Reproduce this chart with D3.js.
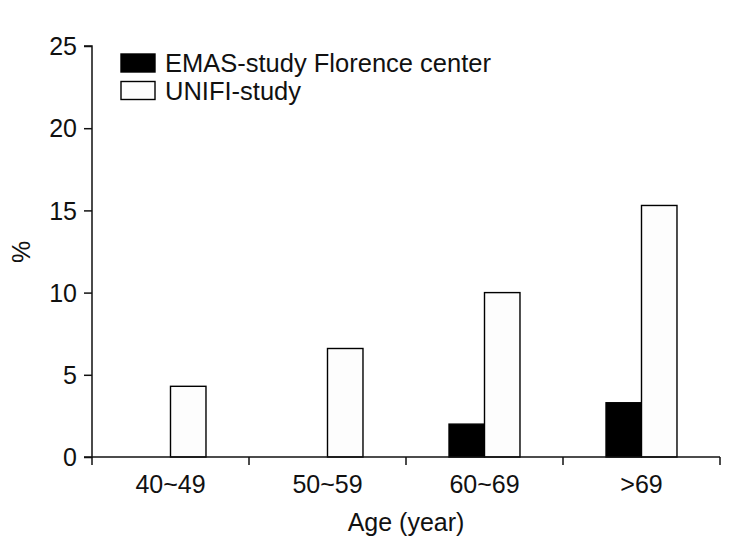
<!DOCTYPE html>
<html>
<head>
<meta charset="utf-8">
<script src="https://cdn.jsdelivr.net/npm/d3@7"></script>
<style>
  html, body { margin: 0; padding: 0; background: #fff; }
  svg text { font-family: "Liberation Sans", Arial, sans-serif; fill: #111; }
</style>
</head>
<body>
<svg id="chart" width="733" height="549"></svg>
<script>
const categories = ["40~49", "50~59", "60~69", ">69"];
const seriesNames = ["EMAS-study Florence center", "UNIFI-study"];
const emasValues = [0, 0, 2.0, 3.3];
const unifiValues = [4.3, 6.6, 10.0, 15.3];
const yTicks = [0, 5, 10, 15, 20, 25];
const seriesFill = ["#000000", "#fdfdfd"];

const svg = d3.select("#chart");
const mLeft = 92, mRight = 720, mTop = 46, mBottom = 457;

const x = d3.scaleBand().domain(categories).range([mLeft, mRight]).padding(0);
const y = d3.scaleLinear().domain([0, 25]).range([mBottom, mTop]);
const barW = x.bandwidth() * 0.226;

// bars
const series = [emasValues, unifiValues];
series.forEach((vals, si) => {
  svg.append("g").selectAll("rect")
    .data(categories.map((c, i) => ({ c, v: vals[i] })).filter(d => d.v > 0))
    .join("rect")
    .attr("x", d => x(d.c) + x.bandwidth() / 2 + (si === 0 ? -barW : 0))
    .attr("y", d => y(d.v))
    .attr("width", barW)
    .attr("height", d => y(0) - y(d.v))
    .attr("fill", seriesFill[si])
    .attr("stroke", "#000")
    .attr("stroke-width", 1.4);
});

// y axis
const yAxis = svg.append("g").attr("transform", `translate(${mLeft},0)`)
  .call(d3.axisLeft(y).tickValues(yTicks).tickSize(8).tickPadding(7));
yAxis.select(".domain").attr("stroke", "#111").attr("stroke-width", 1.5).attr("d", `M-8,${mTop}H0V${mBottom}H-8`);
yAxis.selectAll(".tick line").attr("stroke", "#111").attr("stroke-width", 1.5);
yAxis.selectAll(".tick text").style("font-size", "25px").attr("dy", "0.35em");

// x axis
const boundaries = categories.map(c => x(c)).concat([mRight]);
const xg = svg.append("g");
xg.append("line").attr("x1", mLeft).attr("x2", mRight).attr("y1", mBottom).attr("y2", mBottom)
  .attr("stroke", "#111").attr("stroke-width", 1.5);
xg.selectAll("line.tk").data(boundaries).join("line").attr("class", "tk")
  .attr("x1", d => d).attr("x2", d => d).attr("y1", mBottom).attr("y2", mBottom + 8)
  .attr("stroke", "#111").attr("stroke-width", 1.5);
xg.selectAll("text").data(categories).join("text")
  .attr("x", d => x(d) + x.bandwidth() / 2)
  .attr("y", 493)
  .attr("text-anchor", "middle")
  .style("font-size", "25px")
  .text(d => d);

// axis titles
svg.append("text").attr("x", 406).attr("y", 531).attr("text-anchor", "middle")
  .style("font-size", "25px").text("Age (year)");
svg.append("text").attr("transform", "translate(30,252) rotate(-90)").attr("text-anchor", "middle")
  .style("font-size", "25px").text("%");

// legend
const lg = svg.append("g");
seriesNames.forEach((name, i) => {
  const yy = 54 + i * 27.5;
  lg.append("rect").attr("x", 121).attr("y", yy).attr("width", 34).attr("height", 18)
    .attr("fill", seriesFill[i]).attr("stroke", "#000").attr("stroke-width", 1.4);
  lg.append("text").attr("x", 165).attr("y", yy + 18).style("font-size", "25.5px").text(name);
});
</script>
</body>
</html>
